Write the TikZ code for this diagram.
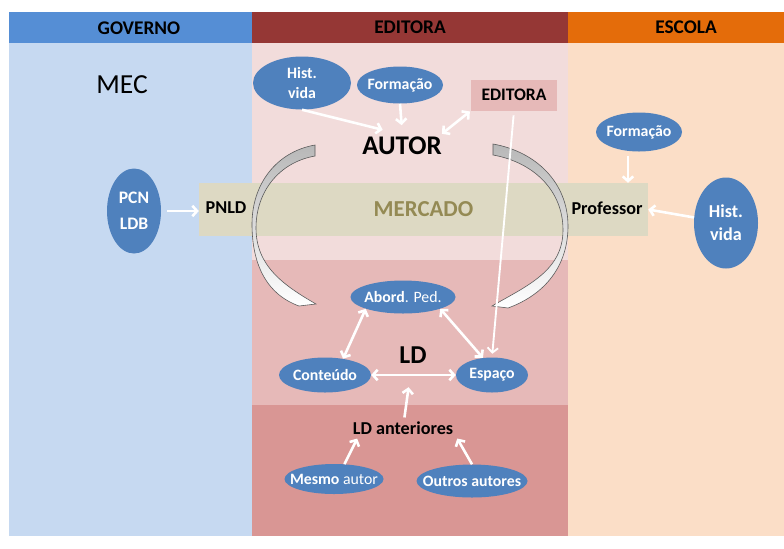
\documentclass[tikz,border=0pt]{standalone}
\usepackage{fontspec}
\setmainfont{Carlito}
\usetikzlibrary{arrows.meta,shapes.geometric}
\definecolor{govblue}{RGB}{85,142,213}
\definecolor{govpale}{RGB}{198,217,241}
\definecolor{edred}{RGB}{149,55,53}
\definecolor{edpale}{RGB}{242,220,219}
\definecolor{edmid}{RGB}{230,185,184}
\definecolor{eddeep}{RGB}{217,150,148}
\definecolor{escorange}{RGB}{228,108,10}
\definecolor{escpale}{RGB}{251,222,199}
\definecolor{bubblue}{RGB}{79,129,189}
\definecolor{mercbeige}{RGB}{221,217,195}
\definecolor{mercolive}{RGB}{148,138,84}

\begin{document}
\begin{tikzpicture}[x=0.03cm, y=0.03cm,
    bubble/.style={ellipse, fill=bubblue, inner sep=0pt},
    tag/.style={text=white, font=\fontsize{13.5}{17}\selectfont\bfseries, align=center},
    word/.style={font=\fontsize{15.5}{18}\selectfont\bfseries},
    head/.style={font=\fontsize{16.5}{19}\selectfont\bfseries},
    link/.style={white, line width=2.2pt, -{Straight Barb[length=4pt,width=9pt]}},
    twoway/.style={link, {Straight Barb[length=4pt,width=9pt]}-{Straight Barb[length=4pt,width=9pt]}},
    bent/.style={draw=black!65, line width=0.5pt, top color=black!28, bottom color=white}]
    \fill[white] (0,0) rectangle (784,-548);
    \useasboundingbox (0,0) rectangle (784,-548);

    % Column headers
    \fill[govblue] (9,-12) rectangle (252,-43);
    \fill[edred] (252,-12) rectangle (568,-43);
    \fill[escorange] (568,-12) rectangle (784,-43);
    \node[head] (gov) at (139,-28) {GOVERNO};
    \node[head] (edt) at (410,-27) {EDITORA};
    \node[head] (esc) at (686,-27) {ESCOLA};

    % Column bodies
    \fill[govpale] (9,-43) rectangle (252,-536);
    \fill[edpale] (252,-43) rectangle (568,-260);
    \fill[edmid] (252,-260) rectangle (568,-405);
    \fill[eddeep] (252,-405) rectangle (568,-536);
    \fill[escpale] (568,-43) rectangle (784,-536);

    % Market band
    \node[fill=mercbeige, minimum width=13.47cm, minimum height=1.59cm, text=mercolive,
        font=\fontsize{19.5}{22}\selectfont\bfseries] (mercado) at (423.5,-209.5) {MERCADO};

    % Curved arrows
    \path[bent] (315,-145) to[out=190,in=90] (252,-224) to[out=-90,in=160] (299,-306)
        -- (316,-304) to[out=150,in=-90] (256,-228) to[out=90,in=190] (315,-156) -- cycle;
    \path[bent] (493,-144) to[out=-10,in=90] (568,-226) to[out=-90,in=20] (508,-308)
        -- (492,-306) to[out=30,in=-90] (563,-230) to[out=90,in=-10] (493,-155) -- cycle;

    % Governo
    \node[font=\fontsize{23.5}{26}\selectfont] (mec) at (122,-85) {MEC};
    \node[bubble, minimum width=1.62cm, minimum height=2.55cm,
        label={[tag, font=\fontsize{15}{22}\selectfont\bfseries]center:PCN\\LDB}] (pcn) at (134,-211) {};
    \node[word] (pnld) at (226,-208) {PNLD};

    % Editora
    \node[bubble, minimum width=2.94cm, minimum height=1.59cm,
        label={[tag]center:Hist.\\vida}] (histA) at (302,-83) {};
    \node[bubble, minimum width=2.58cm, minimum height=1.11cm,
        label={[tag]center:Formação}] (formA) at (400,-85) {};
    \node[word, font=\fontsize{15}{18}\selectfont\bfseries, fill=edmid,
        minimum width=2.58cm, minimum height=0.93cm] (edbox) at (514,-95) {EDITORA};
    \node[font=\fontsize{23}{26}\selectfont\bfseries, inner xsep=0pt, inner ysep=6pt] (autor) at (402,-146) {AUTOR};
    \node[bubble, minimum width=3.15cm, minimum height=0.99cm,
        label={[tag]center:Abord{\mdseries. Ped.}}] (abord) at (403,-297) {};
    \node[bubble, minimum width=2.76cm, minimum height=1.05cm,
        label={[tag]center:Conteúdo}] (cont) at (325,-375) {};
    \node[bubble, minimum width=2.16cm, minimum height=1.05cm,
        label={[tag]center:Espaço}] (espaco) at (492,-375) {};
    \node[font=\fontsize{22}{24}\selectfont\bfseries] (ld) at (413,-355) {LD};
    \node[word] (ldant) at (403,-428) {LD anteriores};
    \node[bubble, minimum width=2.97cm, minimum height=0.9cm,
        label={[tag]center:Mesmo {\mdseries autor}}] (mesmo) at (334,-479) {};
    \node[bubble, minimum width=3.33cm, minimum height=0.99cm,
        label={[tag]center:Outros autores}] (outros) at (472,-481) {};

    % Escola
    \node[word] (prof) at (607,-208) {Professor};
    \node[bubble, minimum width=2.58cm, minimum height=1.17cm,
        label={[tag]center:Formação}] (formB) at (639,-132) {};
    \node[bubble, minimum width=1.92cm, minimum height=2.73cm,
        label={[tag, font=\fontsize{15.5}{19.5}\selectfont\bfseries]center:Hist.\\vida}] (histB) at (726,-223) {};

    % Connectors
    \draw[link, shorten <=5pt] (pcn) -- (pcn -| mercado.west);
    \draw[link] (histA.south) -- (autor.140);
    \draw[link, shorten >=4pt] (formA.south) -- (autor.north);
    \draw[twoway, shorten >=1pt] (autor.17) -- (edbox.south west);
    \draw[link, shorten <=4pt] (formB.240) -- (formB.240 |- mercado.north);
    \draw[link] (histB) -- (mercado.east);
    \draw[white, line width=1.6pt, -{Straight Barb[length=4pt,width=9pt]}, shorten <=4pt, shorten >=3pt]
        (edbox.south) -- (espaco.north);
    \draw[twoway] (abord.south west) -- (cont.42);
    \draw[twoway] (abord.south east) -- (espaco.118);
    \draw[twoway] (cont) -- (espaco);
    \draw[link, shorten >=17pt] (ldant) -- (ld);
    \draw[link] (mesmo.55) -- (ldant.193);
    \draw[link] (outros.north) -- (ldant.349);
\end{tikzpicture}
\end{document}
